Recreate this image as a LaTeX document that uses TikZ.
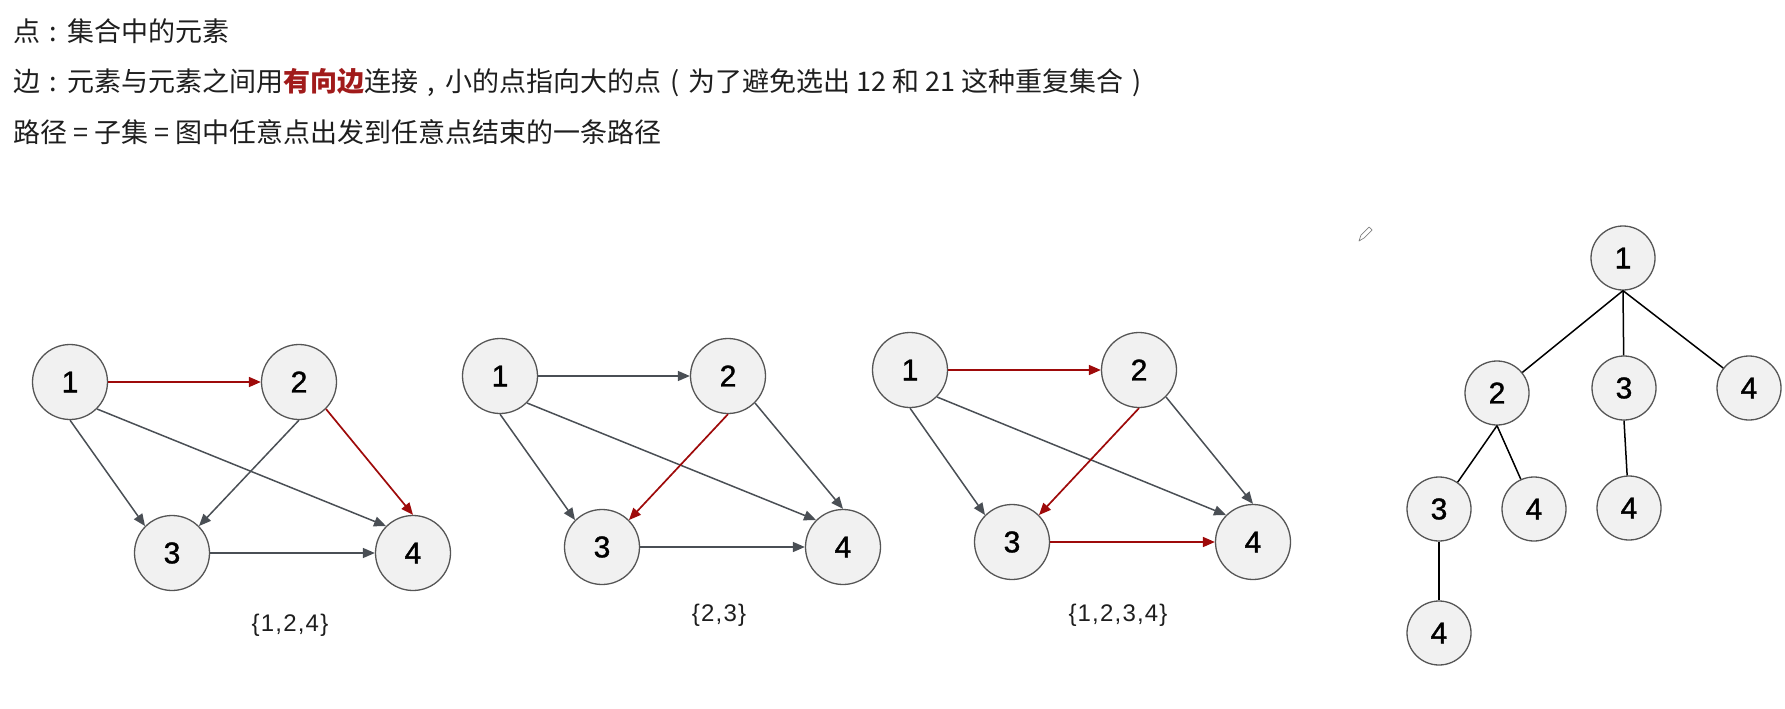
\documentclass[tikz,border=0pt]{standalone}
\usepackage{fontspec}
\setmainfont{Liberation Sans}
\newfontfamily\cjk{Noto Sans CJK SC}
\newfontfamily\numfont{Liberation Sans}[FakeBold=1.2]
\usetikzlibrary{arrows.meta}
\definecolor{nodefill}{HTML}{F1F1F1}
\definecolor{nodeline}{HTML}{555555}
\definecolor{edgegray}{HTML}{4A4F55}
\definecolor{edgered}{HTML}{9E0A0A}
\definecolor{txtred}{HTML}{A11B1B}
\definecolor{txt}{HTML}{1E1E1E}
\newcommand{\fwp}[1]{\makebox[1em][c]{#1}}
\begin{document}
\begin{tikzpicture}[x=1pt,y=-1pt,
  vtx/.style={circle, draw=nodeline, fill=nodefill, line width=1.3pt, minimum size=75pt, inner sep=0pt, text=black, font=\numfont\fontsize{30}{30}\selectfont},
  tvtx/.style={vtx, minimum size=64pt, font=\numfont\fontsize{30}{30}\selectfont},
  garrow/.style={draw=edgegray, line width=1.5pt, -{Triangle[length=12pt,width=10pt]}},
  rarrow/.style={draw=edgered, line width=1.7pt, -{Triangle[length=12pt,width=10pt]}},
  tedge/.style={draw=black, line width=1.5pt},
  cjktext/.style={anchor=base west, inner sep=0pt, text=txt, font=\cjk\fontsize{27}{27}\selectfont},
  setlabel/.style={inner sep=0pt, text=txt, font=\fontsize{24}{24}\selectfont\addfontfeatures{LetterSpace=5}}
]
\useasboundingbox (0,0) rectangle (1785,709);

% header text
\node[cjktext] (t1) at (13,42) {点\fwp{:}集合中的元素};
\node[cjktext] (t2) at (13,92) {边\fwp{:}元素与元素之间用{\bfseries\color{txtred}有向边}连接\fwp{,}小的点指向大的点\fwp{(}为了避免选出\ 12\ 和\ 21\ 这种重复集合\fwp{)}};
\node[cjktext] (t3) at (13,142) {路径 = 子集 = 图中任意点出发到任意点结束的一条路径};

% graph 1
\node[vtx] (a1) at (70,382) {1};
\node[vtx] (a2) at (299,382) {2};
\node[vtx] (a3) at (172,553) {3};
\node[vtx] (a4) at (413,553) {4};
\draw[rarrow] (a1) -- (a2);
\draw[garrow] (a1.south) -- (a3.north west);
\draw[garrow] (a1.south east) -- (a4.north west);
\draw[garrow] (a2.south) -- (a3.north east);
\draw[rarrow] (a2.south east) -- (a4.north);
\draw[garrow] (a3) -- (a4);
\node[setlabel] (l1) at (290,625) {\{1,2,4\}};

% graph 2
\node[vtx] (b1) at (500,376) {1};
\node[vtx] (b2) at (728,376) {2};
\node[vtx] (b3) at (602,547) {3};
\node[vtx] (b4) at (843,547) {4};
\draw[garrow] (b1) -- (b2);
\draw[garrow] (b1.south) -- (b3.north west);
\draw[garrow] (b1.south east) -- (b4.north west);
\draw[rarrow] (b2.south) -- (b3.north east);
\draw[garrow] (b2.south east) -- (b4.north);
\draw[garrow] (b3) -- (b4);
\node[setlabel] (l2) at (719,615) {\{2,3\}};

% graph 3
\node[vtx] (c1) at (910,370) {1};
\node[vtx] (c2) at (1139,370) {2};
\node[vtx] (c3) at (1012,542) {3};
\node[vtx] (c4) at (1253,542) {4};
\draw[rarrow] (c1) -- (c2);
\draw[garrow] (c1.south) -- (c3.north west);
\draw[garrow] (c1.south east) -- (c4.north west);
\draw[rarrow] (c2.south) -- (c3.north east);
\draw[garrow] (c2.south east) -- (c4.north);
\draw[rarrow] (c3) -- (c4);
\node[setlabel] (l3) at (1118,615) {\{1,2,3,4\}};

% pencil icon
\draw[gray, line width=0.7pt, line join=round] (1359,241) -- (1361,235) -- (1369,227) -- (1372,230) -- (1364,238) -- cycle;

% tree
\node[tvtx] (r) at (1623,258) {1};
\node[tvtx] (s2) at (1497,393) {2};
\node[tvtx] (s3) at (1624,388) {3};
\node[tvtx] (s4) at (1749,388) {4};
\node[tvtx] (s23) at (1439,509) {3};
\node[tvtx] (s24) at (1534,509) {4};
\node[tvtx] (s34) at (1629,508) {4};
\node[tvtx] (s234) at (1439,633) {4};
\draw[tedge] (r.south) -- (s2);
\draw[tedge] (r.south) -- (s3);
\draw[tedge] (r.south) -- (s4);
\draw[tedge] (s2.south) -- (s23);
\draw[tedge] (s2.south) -- (s24);
\draw[tedge] (s3.south) -- (s34);
\draw[tedge] (s23) -- (s234);
\end{tikzpicture}
\end{document}
